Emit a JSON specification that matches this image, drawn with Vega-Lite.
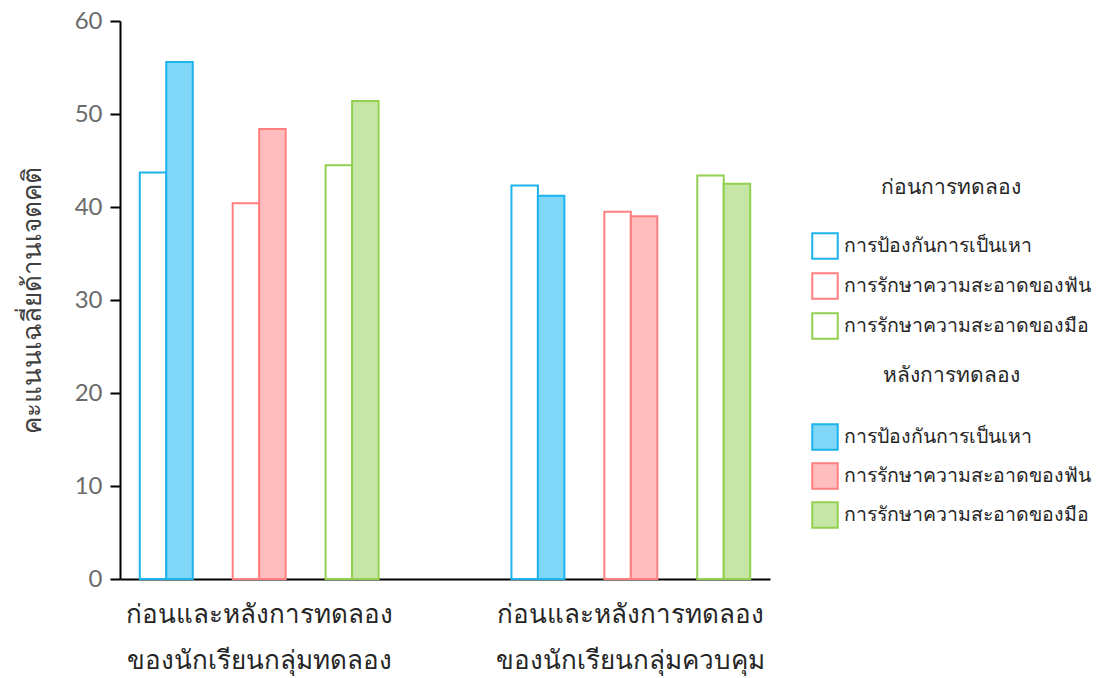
{
  "$schema": "https://vega.github.io/schema/vega-lite/v6.json",
  "autosize": "none",
  "width": 650,
  "height": 558,
  "padding": {"left": 120, "top": 21, "right": 326, "bottom": 99},
  "background": "white",
  "config": {"view": {"stroke": null}, "font": "Noto Sans"},
  "data": {
    "values": [
      {"slot": "A1", "group": "ทดลอง", "category": "การป้องกันการเป็นเหา", "stage": "ก่อน", "value": 43.7},
      {"slot": "A1", "group": "ทดลอง", "category": "การป้องกันการเป็นเหา", "stage": "หลัง", "value": 55.6},
      {"slot": "A2", "group": "ทดลอง", "category": "การรักษาความสะอาดของฟัน", "stage": "ก่อน", "value": 40.4},
      {"slot": "A2", "group": "ทดลอง", "category": "การรักษาความสะอาดของฟัน", "stage": "หลัง", "value": 48.4},
      {"slot": "A3", "group": "ทดลอง", "category": "การรักษาความสะอาดของมือ", "stage": "ก่อน", "value": 44.5},
      {"slot": "A3", "group": "ทดลอง", "category": "การรักษาความสะอาดของมือ", "stage": "หลัง", "value": 51.4},
      {"slot": "B1", "group": "ควบคุม", "category": "การป้องกันการเป็นเหา", "stage": "ก่อน", "value": 42.3},
      {"slot": "B1", "group": "ควบคุม", "category": "การป้องกันการเป็นเหา", "stage": "หลัง", "value": 41.2},
      {"slot": "B2", "group": "ควบคุม", "category": "การรักษาความสะอาดของฟัน", "stage": "ก่อน", "value": 39.5},
      {"slot": "B2", "group": "ควบคุม", "category": "การรักษาความสะอาดของฟัน", "stage": "หลัง", "value": 39.0},
      {"slot": "B3", "group": "ควบคุม", "category": "การรักษาความสะอาดของมือ", "stage": "ก่อน", "value": 43.4},
      {"slot": "B3", "group": "ควบคุม", "category": "การรักษาความสะอาดของมือ", "stage": "หลัง", "value": 42.5}
    ]
  },
  "encoding": {
    "x": {
      "field": "slot",
      "type": "nominal",
      "sort": null,
      "scale": {"domain": ["A1", "A2", "A3", "gap", "B1", "B2", "B3"], "paddingInner": 0.43, "paddingOuter": 0.213},
      "axis": {
        "title": null,
        "ticks": false,
        "domainColor": "black",
        "domainWidth": 2,
        "labelAngle": 0,
        "labelPadding": 22,
        "labelFontSize": 26,
        "labelColor": "#262626",
        "labelLineHeight": 46,
        "labelBaseline": "top",
        "labelOverlap": false,
        "labelLimit": 600,
        "labelExpr": "datum.value == 'A2' ? ['ก่อนและหลังการทดลอง', 'ของนักเรียนกลุ่มทดลอง'] : datum.value == 'B2' ? ['ก่อนและหลังการทดลอง', 'ของนักเรียนกลุ่มควบคุม'] : ''"
      }
    },
    "xOffset": {"field": "stage", "type": "nominal", "scale": {"domain": ["ก่อน", "หลัง"], "paddingInner": 0, "paddingOuter": 0}},
    "y": {
      "field": "value",
      "type": "quantitative",
      "scale": {"domain": [0, 60], "nice": false},
      "axis": {
        "title": "คะแนนเฉลี่ยด้านเจตคติ",
        "titleFontSize": 26,
        "titleFontWeight": "normal",
        "titleColor": "#404040",
        "titleX": -75,
        "values": [0, 10, 20, 30, 40, 50, 60],
        "grid": false,
        "domainColor": "black",
        "domainWidth": 2,
        "tickColor": "black",
        "tickWidth": 2,
        "tickSize": 10,
        "labelFont": "Lato",
        "labelFontSize": 24,
        "labelColor": "#6B6B6B",
        "labelPadding": 8
      }
    }
  },
  "layer": [
    {
      "transform": [{"filter": "datum.stage == 'ก่อน'"}],
      "mark": {"type": "bar", "fill": "white", "strokeWidth": 2},
      "encoding": {
        "stroke": {
          "field": "category",
          "type": "nominal",
          "sort": null,
          "scale": {"domain": ["การป้องกันการเป็นเหา", "การรักษาความสะอาดของฟัน", "การรักษาความสะอาดของมือ"], "range": ["#1CB4EC", "#FF7F80", "#92D050"]},
          "legend": {
            "title": "ก่อนการทดลอง",
            "orient": "none",
            "legendX": 691,
            "legendY": 156,
            "titleFontSize": 21,
            "titleFontWeight": "normal",
            "titleColor": "#262626",
            "titleAnchor": "middle",
            "titlePadding": 34,
            "labelFontSize": 19.5,
            "labelColor": "#262626",
            "labelLimit": 400,
            "symbolType": "square",
            "symbolSize": 650,
            "symbolStrokeWidth": 2,
            "symbolFillColor": "white",
            "rowPadding": 6,
            "labelOffset": 5
          }
        }
      }
    },
    {
      "transform": [{"filter": "datum.stage == 'หลัง'"}],
      "mark": {"type": "bar", "strokeWidth": 2, "fillOpacity": 1},
      "encoding": {
        "fill": {
          "field": "category",
          "type": "nominal",
          "sort": null,
          "scale": {"domain": ["การป้องกันการเป็นเหา", "การรักษาความสะอาดของฟัน", "การรักษาความสะอาดของมือ"], "range": ["#7FD6F6", "#FFBDBD", "#C6E6A6"]},
          "legend": {
            "title": "หลังการทดลอง",
            "orient": "none",
            "legendX": 691,
            "legendY": 344,
            "titleFontSize": 21,
            "titleFontWeight": "normal",
            "titleColor": "#262626",
            "titleAnchor": "middle",
            "titlePadding": 37,
            "labelFontSize": 19.5,
            "labelColor": "#262626",
            "labelLimit": 400,
            "symbolType": "square",
            "symbolSize": 650,
            "symbolStrokeWidth": 2,
            "rowPadding": 5,
            "labelOffset": 5
          }
        },
        "stroke": {
          "field": "category",
          "type": "nominal",
          "sort": null,
          "scale": {"domain": ["การป้องกันการเป็นเหา", "การรักษาความสะอาดของฟัน", "การรักษาความสะอาดของมือ"], "range": ["#1CB4EC", "#FF7F80", "#92D050"]},
          "legend": {
            "title": "หลังการทดลอง",
            "orient": "none",
            "legendX": 691,
            "legendY": 344,
            "titleFontSize": 21,
            "titleFontWeight": "normal",
            "titleColor": "#262626",
            "titleAnchor": "middle",
            "titlePadding": 37,
            "labelFontSize": 19.5,
            "labelColor": "#262626",
            "labelLimit": 400,
            "symbolType": "square",
            "symbolSize": 650,
            "symbolStrokeWidth": 2,
            "rowPadding": 5,
            "labelOffset": 5
          }
        }
      }
    }
  ],
  "resolve": {
    "scale": {"stroke": "independent", "fill": "independent"},
    "legend": {"stroke": "independent", "fill": "independent"}
  }
}
